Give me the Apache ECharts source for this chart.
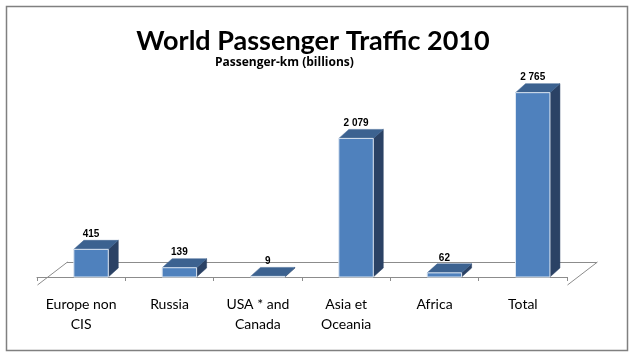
<!DOCTYPE html>
<html><head><meta charset="utf-8">
<script src="https://cdn.jsdelivr.net/npm/echarts@6/dist/echarts.min.js"></script>
<style>html,body{margin:0;padding:0;background:#fff}#c{width:635px;height:358px}</style>
</head><body><div id="c"></div>
<script>
var categories = ['Europe non\nCIS', 'Russia', 'USA * and\nCanada', 'Asia et\nOceania', 'Africa', 'Total'];
var values = [415, 139, 9, 2079, 62, 2765];
var titleText = 'World Passenger Traffic 2010';
var subtitleText = 'Passenger-km (billions)';

function fmt(v){ return String(v).replace(/\B(?=(\d{3})+(?!\d))/g, ' '); }

var chart = echarts.init(document.getElementById('c'), null, {renderer:'canvas'});
var DX = 10, DY = 9;       // bar depth
var FDX = 30, FDY = 23;    // floor depth
var FLOOR_DROP = 8;

function renderBar(params, api){
  var idx = api.value(0), val = api.value(1);
  var top = api.coord([idx, val]);
  var base = api.coord([idx, 0]);
  var band = api.size([1, 0])[0];
  var w = band * 0.39;
  var cx = top[0] + band * 0.112;
  var x0 = cx - w/2, x1 = cx + w/2;
  var yt = top[1], yb = base[1];
  return {
    type:'group',
    children:[
      {type:'polygon', shape:{points:[[x1,yb],[x1+DX,yb-DY],[x1+DX,yt-DY],[x1,yt]]}, style:{fill:'#2B4265', stroke:'#2B4265', lineWidth:0.5}},
      {type:'polygon', shape:{points:[[x0,yt],[x0+DX,yt-DY],[x1+DX,yt-DY],[x1,yt]]}, style:{fill:'#3C6290', stroke:'#3C6290', lineWidth:0.5}},
      {type:'rect', shape:{x:x0, y:yt, width:w, height:yb-yt}, style:{fill:'#4F81BD', stroke:'#DCE6F2', lineWidth:1}},
      {type:'text', style:{text:fmt(val), x:cx, y:yt-DY-1, align:'center', verticalAlign:'bottom', font:'bold 10px "Liberation Sans", Arial, sans-serif', fill:'#000'}}
    ]
  };
}

function renderFloor(params, api){
  var cs = params.coordSys;
  var yf = cs.y + cs.height + FLOOR_DROP, yb = yf - FDY;
  var xl = cs.x, xr = cs.x + cs.width;
  var st = {stroke:'#8C8C8C', lineWidth:1};
  return {type:'group', children:[
    {type:'line', shape:{x1:xl+FDX, y1:yb+0.5, x2:xr+FDX, y2:yb+0.5}, style:st},
    {type:'line', shape:{x1:xl+0.5, y1:yf, x2:xl+FDX+0.5, y2:yb}, style:st},
    {type:'line', shape:{x1:xr+0.5, y1:yf, x2:xr+FDX+0.5, y2:yb}, style:st}
  ]};
}

chart.setOption({
  animation:false,
  backgroundColor:'#fff',
  graphic:[
    {type:'rect', shape:{x:6.5, y:6.5, width:621, height:344}, style:{fill:null, stroke:'#808080', lineWidth:1.5}, z:-10},
    {type:'text', style:{text:titleText, x:313, y:41, align:'center', verticalAlign:'middle', font:'bold 27px Lato, sans-serif', fill:'#000'}},
    {type:'text', style:{text:subtitleText, x:215, y:63, align:'left', verticalAlign:'middle', font:'bold 12px "Open Sans", sans-serif', fill:'#000'}}
  ],
  grid:{left:37, width:530, top:77, height:200},
  xAxis:{
    type:'category', data:categories, offset:FLOOR_DROP,
    axisLine:{show:true, lineStyle:{color:'#8C8C8C', width:1}},
    axisTick:{show:true, length:4, alignWithLabel:false, lineStyle:{color:'#8C8C8C'}},
    axisLabel:{interval:0, margin:9, color:'#000', fontSize:14, lineHeight:20, fontFamily:'Lato, sans-serif'},
    splitLine:{show:false}
  },
  yAxis:{type:'value', min:0, max:3000, show:false, splitLine:{show:false}},
  series:[
    {type:'custom', renderItem:renderFloor, data:[[0,0]], z:1, silent:true},
    {type:'custom', renderItem:renderBar, data:values.map(function(v,i){return [i,v];}), encode:{x:0,y:1}, z:5}
  ]
});
</script></body></html>
